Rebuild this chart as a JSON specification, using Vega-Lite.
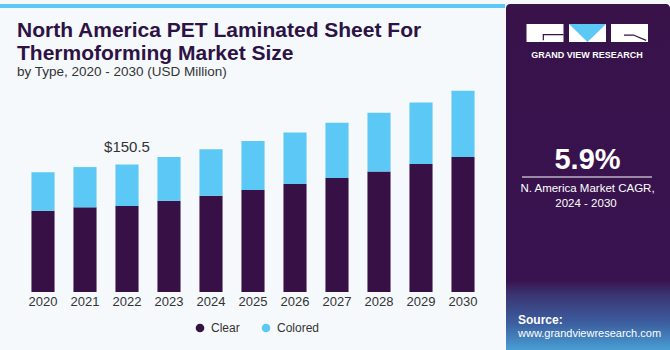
{
  "$schema": "https://vega.github.io/schema/vega-lite/v6.json",
  "padding": 0,
  "background": "#f5f9fc",
  "spacing": 1,
  "config": {"view": {"stroke": null}, "font": "Liberation Sans"},
  "hconcat": [
    {
      "spacing": 9,
      "vconcat": [
        {
          "width": 505,
          "height": 4,
          "view": {"fill": "#5bc8f5", "stroke": null},
          "data": {"values": [{"t": ""}]},
          "mark": {"type": "text"},
          "encoding": {"text": {"field": "t"}}
        },
        {
          "width": 505,
          "height": 212,
          "title": {
            "text": ["North America PET Laminated Sheet For", "Thermoforming Market Size"],
            "subtitle": "by Type, 2020 - 2030 (USD Million)",
            "anchor": "start",
            "frame": "group",
            "dx": 17,
            "font": "Liberation Sans",
            "fontSize": 21,
            "fontWeight": "bold",
            "color": "#2d1244",
            "lineHeight": 22.5,
            "subtitleFont": "Liberation Sans",
            "subtitleFontSize": 13.5,
            "subtitleColor": "#333333",
            "subtitlePadding": 1.5,
            "offset": 1.5
          },
          "data": {
            "values": [
              {"year": 2020, "type": "Clear", "value": 95.8},
              {"year": 2020, "type": "Colored", "value": 45.3},
              {"year": 2021, "type": "Clear", "value": 99.8},
              {"year": 2021, "type": "Colored", "value": 47.5},
              {"year": 2022, "type": "Clear", "value": 101.4},
              {"year": 2022, "type": "Colored", "value": 49.1},
              {"year": 2023, "type": "Clear", "value": 107.6},
              {"year": 2023, "type": "Colored", "value": 51.5},
              {"year": 2024, "type": "Clear", "value": 113.5},
              {"year": 2024, "type": "Colored", "value": 54.7},
              {"year": 2025, "type": "Clear", "value": 120.4},
              {"year": 2025, "type": "Colored", "value": 57.6},
              {"year": 2026, "type": "Clear", "value": 127.3},
              {"year": 2026, "type": "Colored", "value": 60.9},
              {"year": 2027, "type": "Clear", "value": 134.4},
              {"year": 2027, "type": "Colored", "value": 65.1},
              {"year": 2028, "type": "Clear", "value": 142.2},
              {"year": 2028, "type": "Colored", "value": 69.1},
              {"year": 2029, "type": "Clear", "value": 150.8},
              {"year": 2029, "type": "Colored", "value": 72.8},
              {"year": 2030, "type": "Clear", "value": 159.1},
              {"year": 2030, "type": "Colored", "value": 78.1}
            ]
          },
          "layer": [
            {
              "mark": {"type": "bar"},
              "encoding": {
                "x": {
                  "field": "year",
                  "type": "ordinal",
                  "scale": {"range": [22, 484], "paddingInner": 0.45, "paddingOuter": 0.225},
                  "axis": {
                    "title": null,
                    "labelAngle": 0,
                    "domain": false,
                    "ticks": false,
                    "tickSize": 0,
                    "labelPadding": 3,
                    "labelFontSize": 13,
                    "labelColor": "#333333",
                    "labelFont": "Liberation Sans"
                  }
                },
                "y": {
                  "field": "value",
                  "type": "quantitative",
                  "stack": "zero",
                  "scale": {"domain": [0, 250], "nice": false},
                  "axis": null
                },
                "color": {
                  "field": "type",
                  "type": "nominal",
                  "scale": {"domain": ["Clear", "Colored"], "range": ["#371146", "#5bc8f5"]},
                  "legend": {
                    "orient": "none",
                    "legendX": 194,
                    "legendY": 318,
                    "direction": "horizontal",
                    "title": null,
                    "symbolType": "circle",
                    "symbolSize": 75,
                    "symbolStrokeWidth": 0,
                    "labelFontSize": 12,
                    "labelColor": "#333333",
                    "labelFont": "Liberation Sans",
                    "columnPadding": 20,
                    "labelOffset": 5,
                    "padding": 0
                  }
                },
                "order": {"field": "type", "sort": "ascending"}
              }
            },
            {
              "transform": [
                {"filter": "datum.year == 2022"},
                {"aggregate": [{"op": "sum", "field": "value", "as": "total"}], "groupby": ["year"]}
              ],
              "mark": {"type": "text", "dy": -17, "fontSize": 15, "color": "#333333", "baseline": "middle", "font": "Liberation Sans"},
              "encoding": {
                "x": {"field": "year", "type": "ordinal"},
                "y": {"field": "total", "type": "quantitative"},
                "text": {"field": "total", "type": "quantitative", "format": "$.1f"}
              }
            }
          ]
        }
      ]
    },
    {
      "width": 164,
      "height": 350,
      "view": {
        "stroke": null,
        "cornerRadius": 4,
        "fill": {
          "gradient": "linear",
          "x1": 0, "y1": 0, "x2": 0, "y2": 1,
          "stops": [
            {"offset": 0, "color": "#381249"},
            {"offset": 0.79, "color": "#391350"},
            {"offset": 0.83, "color": "#3a3472"},
            {"offset": 0.91, "color": "#3c5d9e"},
            {"offset": 1, "color": "#4aa8dc"}
          ]
        }
      },
      "layer": [
        {
          "data": {"values": [{"part": "G", "pos": 39}, {"part": "V", "pos": 81.5}, {"part": "R", "pos": 123.5}]},
          "mark": {"type": "point", "shape": "M-1,-0.486H1V0.486H-1Z", "size": 1369, "filled": true, "color": "#ffffff", "opacity": 1, "strokeWidth": 0},
          "encoding": {
            "x": {"field": "pos", "type": "quantitative", "scale": {"domain": [0, 164], "nice": false, "zero": false}, "axis": null},
            "y": {"datum": 29, "type": "quantitative", "scale": {"domain": [0, 350], "reverse": true, "nice": false, "zero": false}, "axis": null}
          }
        },
        {
          "data": {"values": [{"part": "V"}]},
          "mark": {"type": "point", "shape": "M-1,-0.486H1L0,0.486Z", "size": 1369, "filled": true, "color": "#5bc8f5", "opacity": 1, "strokeWidth": 0},
          "encoding": {
            "x": {"datum": 81.5, "type": "quantitative", "scale": {"domain": [0, 164], "nice": false, "zero": false}, "axis": null},
            "y": {"datum": 29, "type": "quantitative", "scale": {"domain": [0, 350], "reverse": true, "nice": false, "zero": false}, "axis": null}
          }
        },
        {
          "data": {"values": [{"part": "G"}]},
          "mark": {"type": "point", "shape": "M-0.09,0.39V0.09H1", "size": 1369, "filled": false, "color": "#371146", "opacity": 1, "strokeWidth": 1.2},
          "encoding": {
            "x": {"datum": 39, "type": "quantitative", "scale": {"domain": [0, 164], "nice": false, "zero": false}, "axis": null},
            "y": {"datum": 29, "type": "quantitative", "scale": {"domain": [0, 350], "reverse": true, "nice": false, "zero": false}, "axis": null}
          }
        },
        {
          "data": {"values": [{"part": "R"}]},
          "mark": {"type": "point", "shape": "M-0.3,0.11H0.21L0.9,0.4", "size": 1369, "filled": false, "color": "#371146", "opacity": 1, "strokeWidth": 1.2},
          "encoding": {
            "x": {"datum": 123.5, "type": "quantitative", "scale": {"domain": [0, 164], "nice": false, "zero": false}, "axis": null},
            "y": {"datum": 29, "type": "quantitative", "scale": {"domain": [0, 350], "reverse": true, "nice": false, "zero": false}, "axis": null}
          }
        },
        {
          "data": {"values": [{"t": "GRAND VIEW RESEARCH"}]},
          "mark": {"type": "text", "fontSize": 9, "fontWeight": "bold", "color": "#ffffff", "letterSpacing": 1.3, "align": "center", "baseline": "middle"},
          "encoding": {
            "text": {"field": "t"},
            "x": {"datum": 81, "type": "quantitative", "scale": {"domain": [0, 164], "nice": false, "zero": false}, "axis": null},
            "y": {"datum": 50.5, "type": "quantitative", "scale": {"domain": [0, 350], "reverse": true, "nice": false, "zero": false}, "axis": null}
          }
        },
        {
          "data": {"values": [{"t": "5.9%"}]},
          "mark": {"type": "text", "fontSize": 29, "fontWeight": "bold", "color": "#ffffff", "align": "center", "baseline": "middle"},
          "encoding": {
            "text": {"field": "t"},
            "x": {"datum": 81.5, "type": "quantitative", "scale": {"domain": [0, 164], "nice": false, "zero": false}, "axis": null},
            "y": {"datum": 156, "type": "quantitative", "scale": {"domain": [0, 350], "reverse": true, "nice": false, "zero": false}, "axis": null}
          }
        },
        {
          "data": {"values": [{"part": "line"}]},
          "mark": {"type": "point", "shape": "M-1,0H1", "size": 16900, "filled": false, "color": "#ffffff", "opacity": 1, "strokeWidth": 1},
          "encoding": {
            "x": {"datum": 81, "type": "quantitative", "scale": {"domain": [0, 164], "nice": false, "zero": false}, "axis": null},
            "y": {"datum": 173, "type": "quantitative", "scale": {"domain": [0, 350], "reverse": true, "nice": false, "zero": false}, "axis": null}
          }
        },
        {
          "data": {"values": [{"t": "N. America Market CAGR,"}]},
          "mark": {"type": "text", "fontSize": 11.5, "color": "#ffffff", "align": "center", "baseline": "middle"},
          "encoding": {
            "text": {"field": "t"},
            "x": {"datum": 81.5, "type": "quantitative", "scale": {"domain": [0, 164], "nice": false, "zero": false}, "axis": null},
            "y": {"datum": 185, "type": "quantitative", "scale": {"domain": [0, 350], "reverse": true, "nice": false, "zero": false}, "axis": null}
          }
        },
        {
          "data": {"values": [{"t": "2024 - 2030"}]},
          "mark": {"type": "text", "fontSize": 11.5, "color": "#ffffff", "align": "center", "baseline": "middle"},
          "encoding": {
            "text": {"field": "t"},
            "x": {"datum": 80, "type": "quantitative", "scale": {"domain": [0, 164], "nice": false, "zero": false}, "axis": null},
            "y": {"datum": 200, "type": "quantitative", "scale": {"domain": [0, 350], "reverse": true, "nice": false, "zero": false}, "axis": null}
          }
        },
        {
          "data": {"values": [{"t": "Source:"}]},
          "mark": {"type": "text", "fontSize": 12, "fontWeight": "bold", "color": "#ffffff", "align": "left", "baseline": "middle"},
          "encoding": {
            "text": {"field": "t"},
            "x": {"datum": 12, "type": "quantitative", "scale": {"domain": [0, 164], "nice": false, "zero": false}, "axis": null},
            "y": {"datum": 315.5, "type": "quantitative", "scale": {"domain": [0, 350], "reverse": true, "nice": false, "zero": false}, "axis": null}
          }
        },
        {
          "data": {"values": [{"t": "www.grandviewresearch.com"}]},
          "mark": {"type": "text", "fontSize": 11, "color": "#ffffff", "align": "left", "baseline": "middle"},
          "encoding": {
            "text": {"field": "t"},
            "x": {"datum": 12, "type": "quantitative", "scale": {"domain": [0, 164], "nice": false, "zero": false}, "axis": null},
            "y": {"datum": 329.5, "type": "quantitative", "scale": {"domain": [0, 350], "reverse": true, "nice": false, "zero": false}, "axis": null}
          }
        }
      ]
    }
  ]
}
